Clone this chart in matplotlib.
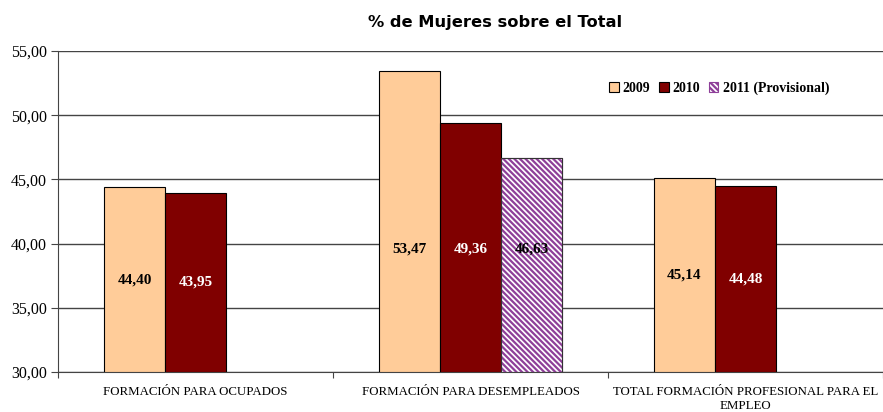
import numpy as np
import matplotlib.pyplot as plt

# Datos: % de mujeres sobre el total por tipo de formacion
categorias = ['FORMACIÓN PARA OCUPADOS', 'FORMACIÓN PARA DESEMPLEADOS',
              'TOTAL FORMACIÓN PROFESIONAL PARA EL\nEMPLEO']
series = ['2009', '2010', '2011 (Provisional)']
valores_2009 = [44.40, 53.47, 45.14]
valores_2010 = [43.95, 49.36, 44.48]
valores_2011 = [np.nan, 46.63, np.nan]
y_ticks = [30, 35, 40, 45, 50, 55]

# Altura de las etiquetas del grupo central (alineadas en una fila)
altura_etiqueta_grupo = [None, 39.6, None]

plt.rcParams['font.family'] = ['Liberation Serif', 'DejaVu Sans']
plt.rcParams['hatch.linewidth'] = 1.6

fig = plt.figure(figsize=(8.83, 4.12), dpi=100)
ax = fig.add_axes([58 / 883, 40 / 412, 825 / 883, 321 / 412])

x = np.arange(len(categorias))
ancho = 0.222
estilos = [
    dict(color='#FFCC99', edgecolor='black', hatch=None),
    dict(color='#800000', edgecolor='black', hatch=None),
    dict(color='white', edgecolor='#8E3F99', hatch='\\' * 6),
]
colores_texto = ['black', 'white', 'black']
datos = [valores_2009, valores_2010, valores_2011]

for i, (vals, est) in enumerate(zip(datos, estilos)):
    pos = x + (i - 1) * ancho
    barras = ax.bar(pos, np.array(vals) - 30, ancho, bottom=30, color=est['color'],
                    edgecolor=est['edgecolor'], hatch=est['hatch'], linewidth=0.8,
                    label=series[i], zorder=3)
    if est['hatch']:
        # contorno oscuro por encima del rayado
        ax.bar(pos, np.array(vals) - 30, ancho, bottom=30, fill=False,
               edgecolor='#333333', linewidth=0.8, zorder=4)
    for j, v in enumerate(vals):
        if np.isnan(v):
            continue
        yl = altura_etiqueta_grupo[j] if altura_etiqueta_grupo[j] else 30 + (v - 30) / 2
        ax.text(pos[j], yl, f'{v:.2f}'.replace('.', ','), ha='center', va='center',
                fontsize=11, fontweight='bold', color=colores_texto[i], zorder=5)

ax.set_ylim(30, 55)
ax.set_xlim(-0.5, 2.5)
ax.set_yticks(y_ticks)
ax.set_yticklabels([f'{t:.2f}'.replace('.', ',') for t in y_ticks], fontsize=11.5)
ax.yaxis.grid(True, color='#444444', linewidth=1)
ax.set_axisbelow(True)

# marcas del eje x en los limites de cada categoria
ax.set_xticks([-0.5, 0.5, 1.5, 2.5])
ax.set_xticklabels([])
ax.set_xticks(x, minor=True)
ax.set_xticklabels(categorias, minor=True, fontsize=9.3)
ax.tick_params(axis='x', which='minor', length=0, pad=10)
ax.tick_params(axis='x', which='major', length=4, direction='out', color='#444444')
ax.tick_params(axis='y', length=5, direction='out', color='#444444', pad=3)

for s in ['top', 'right']:
    ax.spines[s].set_visible(False)
ax.spines['left'].set_color('#444444')
ax.spines['bottom'].set_color('#444444')

fig.text(495 / 883, 1 - 22 / 412, '% de Mujeres sobre el Total', ha='center', va='center',
         fontsize=11.7, fontweight='bold', family='DejaVu Sans')

leg = fig.legend(loc='center', bbox_to_anchor=(719 / 883, 1 - 88 / 412), ncol=3,
                 frameon=False, prop={'weight': 'bold', 'size': 10},
                 handlelength=0.7, handleheight=0.7, handletextpad=0.3, columnspacing=0.6)

plt.savefig('out.png', dpi=100)
plt.close()
